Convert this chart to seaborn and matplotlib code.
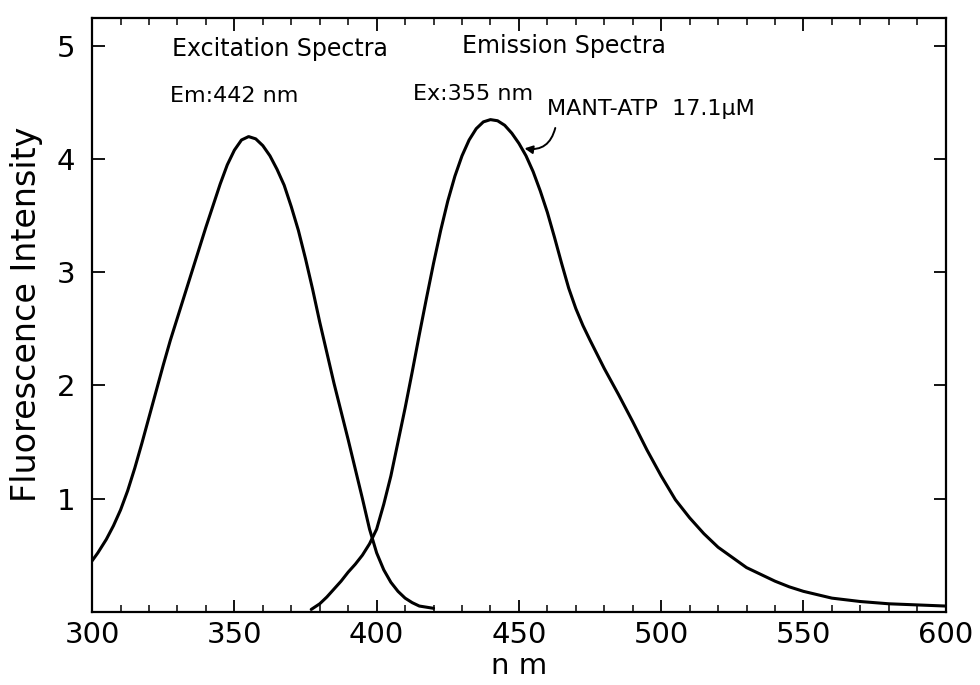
import pandas as pd
import seaborn as sns
import matplotlib.pyplot as plt
from matplotlib.ticker import MultipleLocator

# excitation spectrum (Em 442 nm)
ex_nm = [300, 302, 305, 307.5, 310, 312.5, 315, 317.5, 320, 322.5, 325, 327.5, 330, 332.5,
         335, 337.5, 340, 342.5, 345, 347.5, 350, 352.5, 355, 357.5, 360, 362.5, 365, 367.5,
         370, 372.5, 375, 377.5, 380, 382.5, 385, 387.5, 390, 392.5, 395, 397.5, 400, 402.5,
         405, 407.5, 410, 412.5, 415, 420]
ex_int = [0.45, 0.52, 0.64, 0.76, 0.90, 1.07, 1.27, 1.49, 1.72, 1.95, 2.18, 2.40, 2.60, 2.80,
          3.00, 3.20, 3.40, 3.59, 3.78, 3.95, 4.08, 4.17, 4.20, 4.18, 4.12, 4.03, 3.91, 3.77,
          3.58, 3.37, 3.12, 2.85, 2.56, 2.29, 2.02, 1.77, 1.52, 1.26, 1.00, 0.73, 0.52, 0.37,
          0.26, 0.18, 0.12, 0.08, 0.05, 0.03]

# emission spectrum (Ex 355 nm)
em_nm = [377, 380, 382.5, 385, 387.5, 390, 392.5, 395, 397.5, 400, 402.5, 405, 407.5, 410,
         412.5, 415, 417.5, 420, 422.5, 425, 427.5, 430, 432.5, 435, 437.5, 440, 442.5, 445,
         447.5, 450, 452.5, 455, 457.5, 460, 462.5, 465, 467.5, 470, 472.5, 475, 480, 485,
         490, 495, 500, 505, 510, 515, 520, 525, 530, 535, 540, 545, 550, 555, 560, 570,
         580, 590, 600]
em_int = [0.02, 0.07, 0.13, 0.20, 0.27, 0.35, 0.42, 0.50, 0.60, 0.73, 0.95, 1.20, 1.50, 1.80,
          2.12, 2.45, 2.77, 3.08, 3.37, 3.63, 3.85, 4.03, 4.17, 4.27, 4.33, 4.35, 4.34, 4.30,
          4.23, 4.14, 4.03, 3.89, 3.72, 3.53, 3.31, 3.08, 2.86, 2.68, 2.53, 2.40, 2.15, 1.92,
          1.68, 1.43, 1.20, 0.99, 0.83, 0.69, 0.57, 0.48, 0.39, 0.33, 0.27, 0.22, 0.18, 0.15,
          0.12, 0.09, 0.07, 0.06, 0.05]

ex = pd.DataFrame({"nm": ex_nm, "intensity": ex_int})
em = pd.DataFrame({"nm": em_nm, "intensity": em_int})

sns.set_style("ticks")
plt.rcParams['font.family'] = ['DejaVu Sans']
plt.rcParams['text.color'] = 'black'
plt.rcParams['axes.labelcolor'] = 'black'
plt.rcParams['xtick.color'] = 'black'
plt.rcParams['ytick.color'] = 'black'
plt.rcParams['axes.edgecolor'] = 'black'

fig = plt.figure(figsize=(9.8, 6.85), dpi=100)
ax = fig.add_axes([0.094, 0.107, 0.871, 0.867])

sns.lineplot(x="nm", y="intensity", data=ex, color="black", linewidth=2.2, sort=False,
             estimator=None, ax=ax)
sns.lineplot(x="nm", y="intensity", data=em, color="black", linewidth=2.2, sort=False,
             estimator=None, ax=ax)

ax.set_xlim(300, 600)
ax.set_ylim(0, 5.25)
ax.set_xticks([300, 350, 400, 450, 500, 550, 600])
ax.set_yticks([1, 2, 3, 4, 5])
ax.xaxis.set_minor_locator(MultipleLocator(10))
ax.tick_params(axis="both", which="major", direction="in", length=9, width=1.3,
               labelsize=21, top=True, right=True, pad=7)
ax.tick_params(axis="y", which="major", pad=12)
ax.tick_params(axis="x", which="minor", direction="in", length=5, width=1.1, top=True)
for s in ax.spines.values():
    s.set_linewidth(1.6)

ax.set_xlabel("n m", fontsize=21, labelpad=2)
ax.set_ylabel("Fluorescence Intensity", fontsize=24, labelpad=10)

ax.text(366, 4.97, "Excitation Spectra", fontsize=17, ha="center", va="center")
ax.text(350, 4.56, "Em:442 nm", fontsize=16, ha="center", va="center")
ax.text(466, 5.0, "Emission Spectra", fontsize=17, ha="center", va="center")
ax.text(434, 4.58, "Ex:355 nm", fontsize=16, ha="center", va="center")
ax.text(460, 4.44, "MANT-ATP  17.1\u03bcM", fontsize=16, ha="left", va="center")
ax.annotate("", xy=(451, 4.1), xytext=(463, 4.3),
            arrowprops=dict(arrowstyle="-|>", color="black", lw=1.4,
                            connectionstyle="arc3,rad=-0.5", mutation_scale=12))

fig.savefig("out.png", format="png", dpi=100)
